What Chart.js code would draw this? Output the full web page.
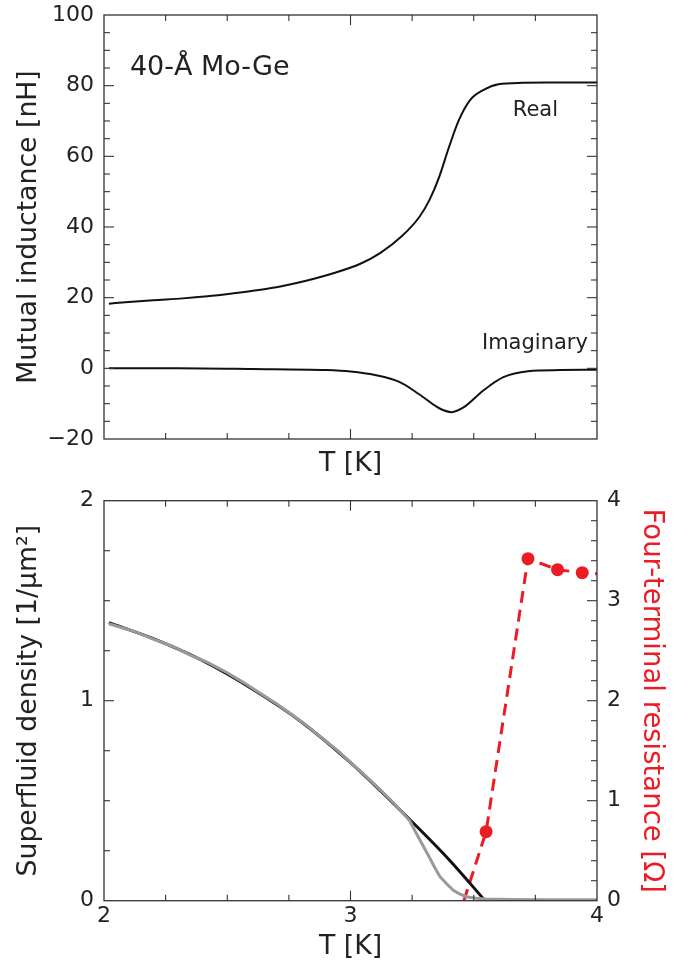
<!DOCTYPE html>
<html>
<head>
<meta charset="utf-8">
<script src="https://cdn.jsdelivr.net/npm/chart.js@4.4.1/dist/chart.umd.min.js"></script>
<style>
  body { margin: 0; background: #fff; }
  canvas { display: block; }
</style>
</head>
<body>
<canvas id="topChart" width="690" height="480"></canvas>
<canvas id="bottomChart" width="690" height="486"></canvas>
<script>
// top panel: mutual inductance vs temperature
const realT = [2.02, 2.10, 2.20, 2.32, 2.42, 2.52, 2.62, 2.73, 2.82, 2.93, 3.04, 3.12, 3.21, 3.28, 3.32, 3.36, 3.40, 3.44, 3.485, 3.54, 3.60, 3.70, 3.80, 3.90, 4.00];
const realM = [18.3, 18.8, 19.3, 19.8, 20.4, 21.2, 22.1, 23.4, 24.8, 26.9, 29.6, 32.6, 37.5, 42.9, 47.6, 54.2, 62.7, 70.3, 75.9, 78.8, 80.4, 80.8, 80.9, 80.9, 80.9];
const imagT = [2.02, 2.30, 2.60, 2.90, 3.00, 3.10, 3.20, 3.28, 3.36, 3.41, 3.46, 3.54, 3.62, 3.72, 3.85, 4.00];
const imagM = [0.0, 0.0, -0.2, -0.5, -0.9, -1.9, -3.9, -7.4, -11.3, -12.4, -11.0, -6.2, -2.5, -0.8, -0.5, -0.4];

// bottom panel: superfluid density (fit + data) and resistance
const fitT = [2.02, 2.20, 2.40, 2.60, 2.80, 3.00, 3.20, 3.40, 3.546];
const fitRho = [1.39, 1.31, 1.20, 1.06, 0.895, 0.69, 0.455, 0.205, 0];
const dataT = [2.02, 2.06, 2.12, 2.20, 2.28, 2.35, 2.42, 2.50, 2.57, 2.63, 2.70, 2.76, 2.82, 2.88, 2.95, 3.00, 3.06, 3.12, 3.18, 3.24, 3.27, 3.31, 3.34, 3.363, 3.39, 3.416, 3.44, 3.47, 3.51, 3.55, 3.65, 3.80, 4.00];
const dataRho = [1.385, 1.37, 1.348, 1.308, 1.271, 1.228, 1.192, 1.14, 1.088, 1.04, 0.985, 0.932, 0.878, 0.818, 0.748, 0.692, 0.625, 0.555, 0.482, 0.40, 0.33, 0.24, 0.17, 0.12, 0.085, 0.053, 0.035, 0.02, 0.012, 0.008, 0.006, 0.005, 0.005];
const resT = [3.46, 3.55, 3.72, 3.84, 3.94, 4.06];
const res = [0.0, 0.69, 3.42, 3.31, 3.28, 3.26];

// tick labels
const tTicks = [2, 3, 4];
const mTicks = [-20, 0, 20, 40, 60, 80, 100];
const rhoTicks = [0, 1, 2];
const resTicks = [0, 1, 2, 3, 4];

const RED = "#ec1c24";
const INK = "#222";
Chart.defaults.font.family = "DejaVu Sans";
Chart.defaults.color = INK;

const pts = (xs, ys) => xs.map((x, i) => ({ x, y: ys[i] }));
const setTicks = vals => scale => { scale.ticks = vals.map(v => ({ value: v })); };
const minus = v => String(v).replace("-", "\u2212");
// fixed axis box size, no extra label padding pushed into the layout
const fixW = w => s => { s.width = w; s.paddingTop = 0; s.paddingBottom = 0; };
const fixH = h => s => { s.height = h; s.paddingLeft = 0; s.paddingRight = 0; };

// frame, inward ticks and free text, placed through the chart scales
function makeFrame(marks, labels) {
  return {
    id: "frame",
    afterDatasetsDraw(chart) {
      const { ctx, chartArea: a } = chart;
      ctx.save();
      ctx.strokeStyle = "#333";
      ctx.lineWidth = 1.3;
      ctx.strokeRect(a.left, a.top, a.right - a.left, a.bottom - a.top);
      ctx.lineWidth = 1.1;
      marks.forEach(m => {
        const s = chart.scales[m.axis];
        const n = Math.round((s.max - s.min) / m.minor);
        for (let i = 1; i < n; i++) {
          const v = s.min + i * m.minor;
          const len = Math.abs(v / m.major - Math.round(v / m.major)) < 1e-6 ? 10 : 6;
          const p = s.getPixelForValue(v);
          m.sides.forEach(side => {
            ctx.beginPath();
            if (side === "bottom") { ctx.moveTo(p, a.bottom); ctx.lineTo(p, a.bottom - len); }
            if (side === "top") { ctx.moveTo(p, a.top); ctx.lineTo(p, a.top + len); }
            if (side === "left") { ctx.moveTo(a.left, p); ctx.lineTo(a.left + len, p); }
            if (side === "right") { ctx.moveTo(a.right, p); ctx.lineTo(a.right - len, p); }
            ctx.stroke();
          });
        }
      });
      ctx.fillStyle = INK;
      ctx.textBaseline = "middle";
      labels.forEach(l => {
        ctx.font = l.size + "px 'DejaVu Sans'";
        ctx.textAlign = l.align;
        ctx.fillText(l.text, chart.scales.x.getPixelForValue(l.x), chart.scales.y.getPixelForValue(l.y));
      });
      ctx.restore();
    }
  };
}

const tickFont = { size: 22 };
const titleFont = { size: 26.7 };

new Chart(document.getElementById("topChart"), {
  type: "line",
  data: {
    datasets: [
      { data: pts(realT, realM), borderColor: "#111", borderWidth: 2, pointRadius: 0, cubicInterpolationMode: "monotone" },
      { data: pts(imagT, imagM), borderColor: "#111", borderWidth: 2, pointRadius: 0, cubicInterpolationMode: "monotone" }
    ]
  },
  options: {
    responsive: false,
    animation: false,
    layout: { padding: { top: 15, left: 0, right: 0, bottom: 0 } },
    plugins: { legend: { display: false }, tooltip: { enabled: false } },
    scales: {
      x: {
        type: "linear", min: tTicks[0], max: tTicks[tTicks.length - 1],
        afterBuildTicks: setTicks(tTicks),
        afterFit: fixH(41),
        grid: { display: false, drawTicks: false },
        border: { display: false },
        ticks: { display: false },
        title: { display: true, text: "T [K]", font: titleFont, color: INK, padding: { top: 0, bottom: 0 } }
      },
      y: {
        min: mTicks[0], max: mTicks[mTicks.length - 1],
        afterBuildTicks: setTicks(mTicks),
        afterFit: fixW(104),
        grid: { display: false, drawTicks: false },
        border: { display: false },
        ticks: { font: tickFont, padding: 10, callback: minus },
        title: { display: true, text: "Mutual inductance [nH]", font: titleFont, color: INK, padding: { top: 13, bottom: 0 } }
      },
      y2: {
        position: "right", min: mTicks[0], max: mTicks[mTicks.length - 1],
        afterFit: fixW(93),
        grid: { display: false, drawTicks: false },
        border: { display: false },
        ticks: { display: false }
      }
    }
  },
  plugins: [makeFrame(
    [
      { axis: "x", minor: 0.25, major: 1, sides: ["bottom", "top"] },
      { axis: "y", minor: 5, major: 20, sides: ["left", "right"] }
    ],
    [
      { text: "40-\u00C5 Mo-Ge", x: 2.105, y: 85, align: "left", size: 27 },
      { text: "Real", x: 3.75, y: 73, align: "center", size: 21 },
      { text: "Imaginary", x: 3.963, y: 7.1, align: "right", size: 21 }
    ]
  )]
});

new Chart(document.getElementById("bottomChart"), {
  type: "line",
  data: {
    datasets: [
      { data: pts(dataT, dataRho), borderColor: "#9a9a9a", borderWidth: 3, pointRadius: 0, tension: 0, yAxisID: "y" },
      { data: pts(fitT, fitRho), borderColor: "#111", borderWidth: 3, pointRadius: 0, cubicInterpolationMode: "monotone", yAxisID: "y" },
      {
        data: pts(resT, res), borderColor: RED, borderWidth: 3, borderDash: [12, 7], tension: 0,
        pointRadius: [0, 6.5, 6.5, 6.5, 6.5, 6.5], pointBackgroundColor: RED, pointBorderWidth: 0, yAxisID: "y2"
      }
    ]
  },
  options: {
    responsive: false,
    animation: false,
    layout: { padding: { top: 20.7, left: 0, right: 0, bottom: 0 } },
    plugins: { legend: { display: false }, tooltip: { enabled: false } },
    scales: {
      x: {
        type: "linear", min: tTicks[0], max: tTicks[tTicks.length - 1],
        afterBuildTicks: setTicks(tTicks),
        afterFit: fixH(65.3),
        grid: { display: false, drawTicks: false },
        border: { display: false },
        ticks: { font: tickFont, padding: 2, maxRotation: 0 },
        title: { display: true, text: "T [K]", font: titleFont, color: INK, padding: { top: 0, bottom: 3 } }
      },
      y: {
        min: rhoTicks[0], max: rhoTicks[rhoTicks.length - 1],
        afterBuildTicks: setTicks(rhoTicks),
        afterFit: fixW(104),
        grid: { display: false, drawTicks: false },
        border: { display: false },
        ticks: { font: tickFont, padding: 10 },
        title: { display: true, text: "Superfluid density [1/\u03BCm\u00B2]", font: titleFont, color: INK, padding: { top: 13, bottom: 0 } }
      },
      y2: {
        position: "right", min: resTicks[0], max: resTicks[resTicks.length - 1],
        afterBuildTicks: setTicks(resTicks),
        afterFit: fixW(93),
        grid: { display: false, drawTicks: false },
        border: { display: false },
        ticks: { font: tickFont, padding: 10 },
        title: { display: true, text: "Four-terminal resistance [\u03A9]", font: { size: 27.5 }, color: RED, padding: { top: 22, bottom: 0 } }
      }
    }
  },
  plugins: [makeFrame(
    [
      { axis: "x", minor: 0.25, major: 1, sides: ["bottom", "top"] },
      { axis: "y", minor: 0.25, major: 1, sides: ["left"] },
      { axis: "y2", minor: 0.2, major: 1, sides: ["right"] }
    ],
    []
  )]
});
</script>
</body>
</html>
